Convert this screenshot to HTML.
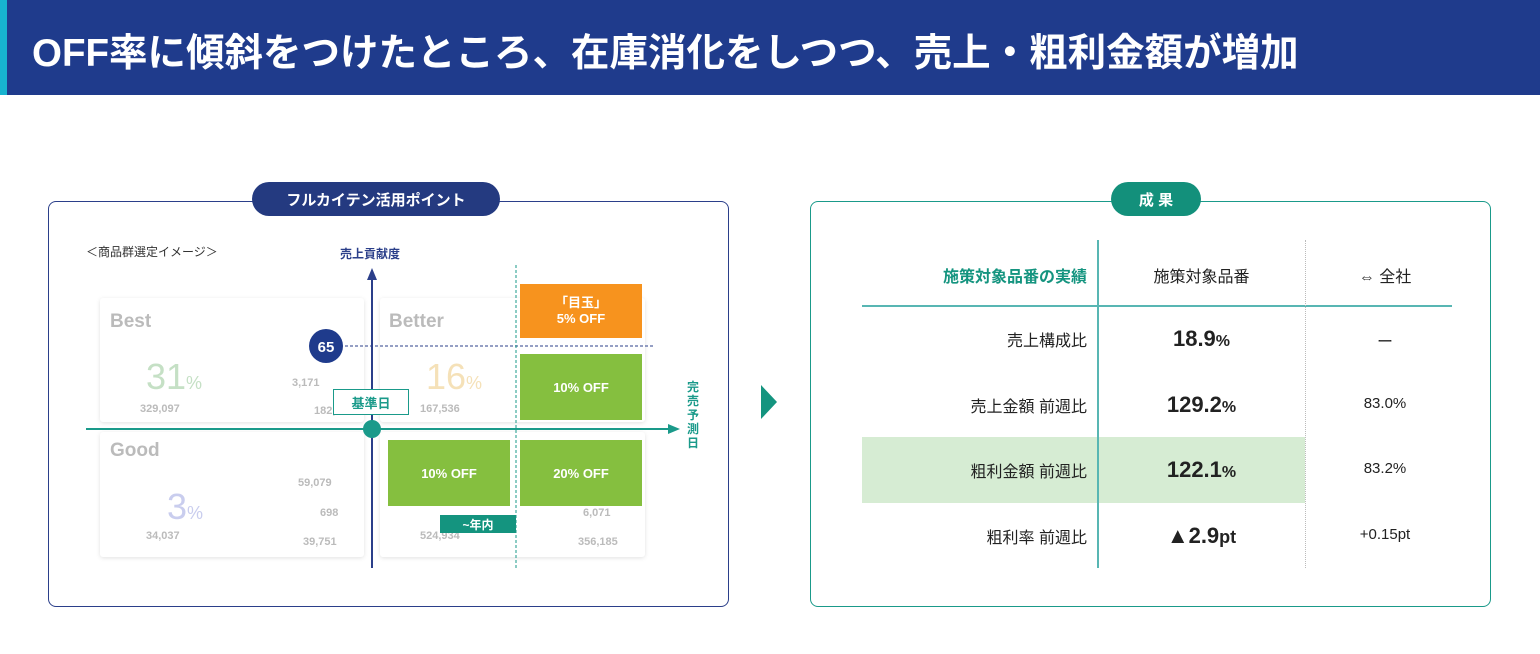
<!DOCTYPE html>
<html><head><meta charset="utf-8"><style>
*{margin:0;padding:0;box-sizing:border-box}
body{width:1540px;height:654px;background:#fff;position:relative;overflow:hidden;font-family:"Liberation Sans","Noto Sans CJK JP",sans-serif}
.a{position:absolute}
.card{position:absolute;background:#fff;box-shadow:0 1px 4px rgba(0,0,0,.12);border-radius:3px}
.ct{position:absolute;color:#bbb;font-weight:bold;font-size:19px}
.f{position:absolute;color:#c8c8c8;font-size:10px}
.g{position:absolute;background:#85bf3f;color:#fff;font-weight:bold;font-size:13px;display:flex;align-items:center;justify-content:center;text-align:center}
.td{position:absolute;font-size:16px;color:#222;text-align:center}
</style></head><body>
<div class="a" style="left:0;top:0;width:1540px;height:95px;background:#1f3b8c"></div>
<div class="a" style="left:0;top:0;width:7px;height:95px;background:#17b3cf"></div>
<div class="a" style="left:32px;top:22px;color:#fff;font-size:38.5px;font-weight:bold;white-space:nowrap">OFF率に傾斜をつけたところ、在庫消化をしつつ、売上・粗利金額が増加</div>

<!-- left panel -->
<div class="a" style="left:48px;top:201px;width:681px;height:406px;border:1.5px solid #2b3f8a;border-radius:8px"></div>
<div class="a" style="left:252px;top:182px;width:248px;height:34px;background:#243a80;border-radius:17px;color:#fff;font-weight:bold;font-size:15px;display:flex;align-items:center;justify-content:center">フルカイテン活用ポイント</div>
<div class="a" style="left:86px;top:243px;font-size:12px;color:#333">＜商品群選定イメージ＞</div>

<div class="card" style="left:100px;top:298px;width:264px;height:124px"></div>
<div class="card" style="left:100px;top:432px;width:264px;height:125px"></div>
<div class="card" style="left:380px;top:298px;width:265px;height:124px"></div>
<div class="card" style="left:380px;top:432px;width:265px;height:125px"></div>
<div class="ct" style="left:110px;top:311px">Best</div>
<div class="ct" style="left:389px;top:311px">Better</div>
<div class="ct" style="left:110px;top:440px">Good</div>
<div class="a" style="left:146px;top:356px;font-size:36px;color:#c5e0c5">31<span style="font-size:18px">%</span></div>
<div class="a" style="left:426px;top:356px;font-size:36px;color:#f5e1b8">16<span style="font-size:18px">%</span></div>
<div class="a" style="left:167px;top:486px;font-size:36px;color:#c9cdee">3<span style="font-size:18px">%</span></div>
<div class="f" style="left:140px;top:403px;font-weight:bold;color:#bbb;font-size:11px">329,097</div>
<div class="f" style="left:420px;top:403px;font-weight:bold;color:#bbb;font-size:11px">167,536</div>
<div class="f" style="left:146px;top:530px;font-weight:bold;color:#bbb;font-size:11px">34,037</div>
<div class="f" style="left:420px;top:530px;font-weight:bold;color:#bbb;font-size:11px">524,934</div>
<div class="f" style="left:292px;top:377px;font-weight:bold;color:#bbb;font-size:11px">3,171</div>
<div class="f" style="left:314px;top:405px;font-weight:bold;color:#bbb;font-size:11px">182,</div>
<div class="f" style="left:298px;top:477px;font-weight:bold;color:#bbb;font-size:11px">59,079</div>
<div class="f" style="left:320px;top:507px;font-weight:bold;color:#bbb;font-size:11px">698</div>
<div class="f" style="left:303px;top:536px;font-weight:bold;color:#bbb;font-size:11px">39,751</div>
<div class="f" style="left:583px;top:507px;font-weight:bold;color:#bbb;font-size:11px">6,071</div>
<div class="f" style="left:578px;top:536px;font-weight:bold;color:#bbb;font-size:11px">356,185</div>

<svg class="a" style="left:0;top:0" width="1540" height="654">
<line x1="330" y1="346" x2="655" y2="346" stroke="#2b3f8a" stroke-width="1" stroke-dasharray="3,2"/>
<line x1="516" y1="265" x2="516" y2="568" stroke="#1a9a8a" stroke-width="1" stroke-dasharray="3,2"/>
<line x1="372" y1="276" x2="372" y2="568" stroke="#2b3f8a" stroke-width="2"/>
<polygon points="372,268 367,280 377,280" fill="#2b3f8a"/>
<line x1="86" y1="429" x2="672" y2="429" stroke="#1a9a8a" stroke-width="2"/>
<polygon points="680,429 668,424 668,434" fill="#1a9a8a"/>
<circle cx="326" cy="346" r="17" fill="#1f3b8c"/>
<text x="326" y="352" fill="#fff" font-size="15" font-weight="bold" text-anchor="middle" font-family="Liberation Sans">65</text>
<circle cx="372" cy="429" r="9" fill="#1a9a8a"/>
<polygon points="761,385 777,402 761,419" fill="#14947f"/>
</svg>
<div class="a" style="left:333px;top:389px;width:76px;height:26px;background:#fff;border:1px solid #1a9a8a;color:#1a9a8a;font-weight:bold;font-size:13px;display:flex;align-items:center;justify-content:center">基準日</div>
<div class="a" style="left:340px;top:245px;font-size:12px;font-weight:bold;color:#2b3f8a">売上貢献度</div>
<div class="a" style="left:687px;top:380px;width:14px;font-size:12px;line-height:14px;font-weight:bold;color:#1a9a8a">完売予測日</div>
<div class="g" style="left:520px;top:284px;width:122px;height:54px;background:#f7931e;line-height:16px">「目玉」<br>5% OFF</div>
<div class="g" style="left:520px;top:354px;width:122px;height:66px">10% OFF</div>
<div class="g" style="left:388px;top:440px;width:122px;height:66px">10% OFF</div>
<div class="g" style="left:520px;top:440px;width:122px;height:66px">20% OFF</div>
<div class="a" style="left:440px;top:515px;width:76px;height:18px;background:#14947f;color:#fff;font-weight:bold;font-size:12px;display:flex;align-items:center;justify-content:center">~年内</div>

<!-- right panel -->
<div class="a" style="left:810px;top:201px;width:681px;height:406px;border:1.5px solid #1a9a8a;border-radius:8px"></div>
<div class="a" style="left:1111px;top:182px;width:90px;height:34px;background:#13907b;border-radius:17px;color:#fff;font-weight:bold;font-size:15px;display:flex;align-items:center;justify-content:center">成 果</div>
<div class="a" style="left:862px;top:437px;width:443px;height:66px;background:#d6ecd3"></div>
<div class="a" style="left:862px;top:305px;width:590px;height:1.5px;background:#58b6b3"></div>
<div class="a" style="left:1097px;top:240px;width:1.5px;height:328px;background:#58b6b3"></div>
<div class="a" style="left:1305px;top:240px;width:0;height:328px;border-left:1px dotted #bbb"></div>

<div class="a" style="left:862px;top:263px;width:225px;text-align:right;font-size:16px;font-weight:bold;color:#14947f">施策対象品番の実績</div>
<div class="td" style="left:1098px;top:263px;width:207px">施策対象品番</div>
<div class="td" style="left:1305px;top:263px;width:160px">⇔ 全社</div>

<div class="a" style="left:862px;top:327px;width:225px;text-align:right;font-size:16px;color:#222">売上構成比</div>
<div class="a" style="left:862px;top:393px;width:225px;text-align:right;font-size:16px;color:#222">売上金額 前週比</div>
<div class="a" style="left:862px;top:458px;width:225px;text-align:right;font-size:16px;color:#222">粗利金額 前週比</div>
<div class="a" style="left:862px;top:524px;width:225px;text-align:right;font-size:16px;color:#222">粗利率 前週比</div>

<div class="td" style="left:1098px;top:326px;width:207px;font-size:22px;font-weight:bold">18.9<span style="font-size:16px">%</span></div>
<div class="td" style="left:1098px;top:392px;width:207px;font-size:22px;font-weight:bold">129.2<span style="font-size:16px">%</span></div>
<div class="td" style="left:1098px;top:457px;width:207px;font-size:22px;font-weight:bold">122.1<span style="font-size:16px">%</span></div>
<div class="td" style="left:1098px;top:523px;width:207px;font-size:22px;font-weight:bold">▲2.9<span style="font-size:18px">pt</span></div>

<div class="td" style="left:1305px;top:328px;width:160px">ー</div>
<div class="td" style="left:1305px;top:395px;width:160px;font-size:15px">83.0%</div>
<div class="td" style="left:1305px;top:460px;width:160px;font-size:15px">83.2%</div>
<div class="td" style="left:1305px;top:526px;width:160px;font-size:15px">+0.15pt</div>
</body></html>
